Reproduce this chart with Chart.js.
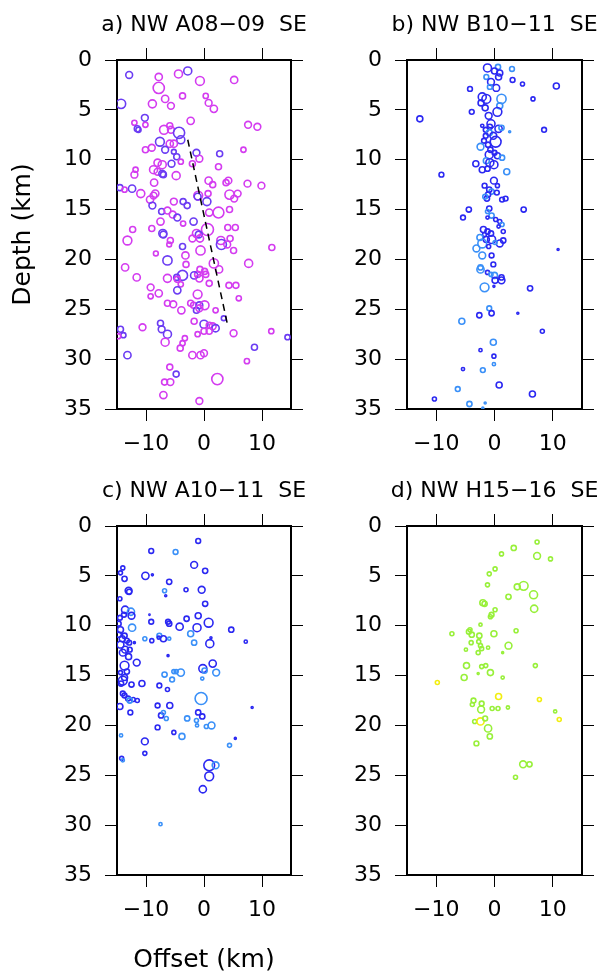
<!DOCTYPE html>
<html>
<head>
<meta charset="utf-8">
<script src="https://cdn.jsdelivr.net/npm/chart.js@4"></script>
<style>
  html, body { margin: 0; background: #fff; overflow: hidden; width: 600px; height: 975px; }
  .panel { position: absolute; }
</style>
</head>
<body>
<div class="panel" style="left:0;top:0;width:408px;height:470px"><canvas id="chartA"></canvas></div>
<div class="panel" style="left:300px;top:0;width:389px;height:470px"><canvas id="chartB"></canvas></div>
<div class="panel" style="left:0;top:470px;width:408px;height:505px"><canvas id="chartC"></canvas></div>
<div class="panel" style="left:300px;top:470px;width:389px;height:505px"><canvas id="chartD"></canvas></div>
<script>
// axis ticks
const depthTicks = [0, 5, 10, 15, 20, 25, 30, 35];
const offsetTicks = [-10, 0, 10];

// a) A08-09 : offset (km), depth (km), magnitude, period (0 = late, 1 = early)
const aOffset = [
    -12.9, -7.8, -4.4, -2.8, -0.7, 5.2, -7.8, -6.7, -3.7, 0.3,
    0.8, 1.7, -8.9, -5.7, -14.3, -10.2, -2.3, -12.0, -10.1, -11.5,
    -11.3, -5.9, 7.6, 9.2, -6.9, -5.7, -4.3, -4.0, -7.6, -5.9,
    -5.2, -9.0, -10.1, -6.7, -5.2, -1.3, 2.7, 6.8, -4.7, -0.8,
    -4.0, -2.0, -8.0, -7.2, -5.6, 2.5, -11.8, -12.0, -8.7, -8.0,
    -7.2, -7.0, -4.8, 0.8, 1.5, 4.2, 3.8, 7.5, 9.9, -8.6,
    -14.5, -13.7, -12.4, -10.9, -8.4, -8.7, -1.0, -1.1, 0.7, 4.4,
    5.8, 5.2, -9.3, -5.2, -3.6, -2.9, 0.5, -8.9, -7.3, -6.3,
    -5.4, -4.6, 0.9, 2.5, 4.4, -7.5, -3.6, -1.8, 0.6, -12.3,
    -9.0, -7.1, -7.0, -1.3, -0.9, 4.1, 5.4, -13.2, -5.8, -6.0,
    -2.0, -0.7, 2.9, 4.5, 3.0, 4.0, -3.7, -0.6, 5.1, 11.7,
    -8.3, -3.2, -6.3, 1.7, -3.1, -13.6, 7.7, 2.6, -0.7, 0.1,
    -1.1, 0.3, -3.7, -4.7, -4.6, -1.7, -0.8, -6.3, -11.6, 0.9,
    -4.0, 4.3, 5.5, -9.2, -4.6, -7.8, -9.2, -1.1, 6.0, -6.3,
    -5.3, -2.3, -1.8, -0.8, 0.1, -1.3, -0.8, -3.9, 2.0, 3.4,
    -7.5, -1.7, 0.0, 0.9, 1.5, 2.0, -10.6, -7.3, -14.4, -13.9,
    -14.8, -6.3, -6.7, -1.1, 0.0, 0.9, 5.1, 11.6, 14.4, -3.3,
    -3.7, -4.1, 8.7, -13.2, -2.0, -0.6, 0.0, 7.4, -5.9, -4.8,
    -6.8, -5.8, 2.3, -7.0, -0.8
];
const aDepth = [
    1.5, 1.7, 1.4, 1.1, 2.1, 2.0, 2.8, 3.9, 3.6, 3.6,
    4.3, 4.9, 4.4, 4.6, 4.4, 5.8, 6.1, 6.3, 6.5, 6.9,
    7.0, 6.6, 6.5, 6.7, 7.0, 7.0, 7.3, 8.0, 8.2, 8.4,
    8.4, 8.8, 9.0, 9.0, 9.2, 9.3, 9.4, 9.0, 9.7, 9.9,
    10.2, 10.4, 10.3, 10.5, 10.4, 10.7, 11.0, 11.5, 11.0, 11.2,
    11.4, 11.5, 11.6, 12.1, 12.5, 12.1, 12.3, 12.4, 12.6, 12.3,
    12.8, 13.0, 12.9, 13.4, 13.4, 13.6, 13.6, 13.7, 13.4, 13.5,
    13.4, 13.9, 14.0, 14.2, 14.2, 14.6, 14.2, 14.6, 15.2, 15.1,
    15.5, 15.8, 15.3, 15.3, 15.0, 16.2, 16.4, 16.2, 17.0, 17.0,
    16.9, 17.4, 17.5, 17.4, 17.5, 16.8, 16.8, 18.1, 18.1, 18.5,
    17.9, 17.9, 18.1, 17.9, 18.5, 18.5, 18.7, 19.1, 19.1, 18.8,
    19.4, 19.6, 20.1, 20.4, 20.5, 20.8, 20.4, 21.0, 21.0, 21.2,
    21.5, 21.5, 21.6, 21.8, 22.0, 21.6, 21.9, 21.9, 21.8, 22.4,
    22.5, 22.6, 22.6, 22.8, 23.1, 23.4, 23.7, 23.5, 23.9, 24.4,
    24.5, 24.4, 24.6, 24.6, 24.6, 25.1, 24.9, 25.1, 25.1, 25.9,
    26.4, 26.2, 26.5, 26.6, 26.7, 26.9, 26.8, 27.0, 27.0, 27.6,
    27.7, 27.5, 28.3, 27.5, 27.2, 27.2, 27.4, 27.2, 27.8, 27.9,
    28.4, 28.9, 28.8, 29.6, 29.6, 29.6, 29.4, 30.2, 30.8, 31.5,
    32.3, 32.3, 32.0, 33.6, 34.2
];
const aMag = [
    1.7, 1.8, 2.0, 2.0, 2.2, 1.8, 2.8, 1.8, 1.5, 1.3,
    1.7, 1.8, 2.0, 1.7, 2.3, 1.7, 1.8, 1.3, 1.3, 1.5,
    1.3, 1.5, 1.7, 1.7, 2.2, 1.7, 2.8, 2.0, 2.2, 1.8,
    1.8, 1.7, 1.5, 1.7, 1.2, 1.7, 1.5, 1.3, 1.5, 1.7,
    1.3, 1.5, 1.8, 2.0, 1.7, 1.5, 1.3, 1.7, 2.0, 1.7,
    1.7, 1.5, 2.0, 1.8, 1.5, 1.7, 1.5, 1.7, 1.7, 1.8,
    1.5, 1.3, 1.8, 2.0, 1.8, 1.7, 2.2, 1.7, 1.5, 2.3,
    1.7, 1.7, 1.8, 1.7, 1.5, 1.5, 2.0, 1.7, 1.5, 1.7,
    1.7, 1.7, 1.8, 2.7, 1.5, 1.8, 1.3, 1.8, 3.0, 1.5,
    1.5, 2.0, 1.7, 2.0, 1.7, 1.5, 1.5, 2.2, 1.5, 1.2,
    1.7, 1.8, 2.0, 1.5, 2.5, 1.7, 1.5, 2.3, 1.5, 1.5,
    1.2, 1.8, 2.3, 2.3, 1.5, 1.8, 2.0, 1.8, 1.5, 1.5,
    1.5, 1.5, 2.5, 1.5, 1.5, 1.8, 1.8, 2.0, 1.8, 1.5,
    1.3, 1.5, 1.5, 1.7, 1.8, 1.8, 1.3, 2.2, 1.3, 1.5,
    1.7, 1.5, 1.5, 1.7, 2.2, 1.5, 1.7, 1.8, 1.3, 1.2,
    1.5, 1.5, 2.0, 1.5, 1.7, 1.8, 1.7, 1.7, 1.5, 1.3,
    1.3, 2.0, 2.0, 1.3, 1.5, 1.5, 1.7, 1.3, 1.3, 1.3,
    1.3, 1.5, 1.5, 1.8, 1.8, 1.8, 1.7, 1.3, 1.5, 1.5,
    1.5, 1.7, 2.8, 1.8, 1.7
];
const aPeriod = [
    1, 0, 0, 1, 0, 0, 0, 0, 0, 0,
    0, 0, 0, 0, 1, 1, 0, 0, 0, 1,
    1, 0, 0, 0, 0, 0, 1, 1, 1, 0,
    0, 0, 0, 1, 1, 1, 1, 0, 1, 0,
    0, 0, 0, 0, 1, 0, 0, 0, 0, 0,
    1, 1, 0, 0, 0, 0, 0, 0, 0, 0,
    1, 0, 1, 0, 0, 0, 0, 1, 0, 0,
    0, 0, 0, 0, 1, 1, 1, 1, 1, 0,
    0, 1, 0, 0, 0, 0, 0, 1, 0, 0,
    0, 1, 1, 0, 1, 0, 0, 0, 0, 0,
    0, 0, 0, 0, 1, 0, 1, 0, 0, 0,
    0, 0, 1, 0, 0, 0, 0, 0, 0, 0,
    0, 0, 1, 1, 0, 1, 0, 0, 0, 0,
    0, 0, 0, 0, 1, 0, 0, 0, 0, 0,
    0, 0, 0, 1, 0, 1, 0, 0, 0, 1,
    1, 0, 1, 0, 0, 1, 0, 1, 1, 1,
    0, 1, 0, 0, 0, 0, 0, 0, 1, 0,
    0, 0, 1, 1, 0, 0, 0, 0, 0, 1,
    0, 0, 0, 0, 0
];
// dipping trend line through the A08-09 cluster
const faultOffset = [-2.8, 4.0];
const faultDepth = [8.0, 26.4];

// b) B10-11
const bOffset = [
    -1.2, 0.6, 3.0, 0.0, 0.9, 0.7, -1.4, 3.1, -0.6, 4.8,
    10.6, 0.3, -0.8, -4.2, -2.1, -1.4, 1.2, 6.6, -2.3, 0.9,
    -1.6, 0.5, -3.9, -12.8, -1.0, -0.6, -2.1, -0.8, 0.7, 1.2,
    -1.5, 2.6, 8.5, -0.9, -1.5, -0.2, 0.2, -1.8, -1.1, -2.4,
    -0.7, -0.9, 0.5, 1.3, 0.0, -1.4, -3.2, -0.8, -0.1, -2.1,
    -1.2, 2.1, -9.1, -0.1, -1.7, 0.5, -0.9, -0.5, 0.4, -1.1,
    -1.3, 1.3, 1.9, -1.6, 5.0, -4.4, -0.9, -1.2, -0.5, -5.4,
    -1.2, 0.2, 0.9, 1.3, 0.7, 1.5, -1.9, -1.2, -0.6, -1.7,
    -2.5, -0.5, -1.4, 1.5, -2.1, 0.9, 0.1, -1.0, 10.9, -3.1,
    -2.1, -0.5, -0.2, -2.4, -2.4, -1.2, -0.6, 0.0, 1.2, 0.1,
    1.2, -1.7, -0.1, 6.1, -0.9, -0.5, -2.6, 4.0, -5.6, 8.2,
    -0.2, -2.4, -0.1, -0.1, -5.4, -2.0, 0.8, -6.3, 6.5, -10.3,
    -4.3, -1.6, -2.0
];
const bDepth = [
    0.8, 0.7, 0.9, 1.1, 1.3, 1.7, 1.7, 2.0, 2.2, 2.4,
    2.6, 2.8, 2.7, 2.9, 3.7, 3.9, 3.9, 3.9, 4.3, 4.6,
    4.8, 5.2, 5.2, 5.9, 5.6, 6.4, 6.6, 6.7, 6.9, 6.8,
    7.0, 7.2, 7.0, 7.3, 7.6, 7.6, 8.2, 8.1, 8.5, 8.7,
    9.0, 9.5, 9.6, 9.8, 9.3, 10.1, 10.4, 10.3, 10.5, 11.0,
    10.9, 11.2, 11.5, 12.1, 12.6, 12.6, 13.0, 13.2, 13.3, 13.5,
    13.9, 14.0, 13.9, 13.7, 15.0, 15.0, 14.9, 15.2, 15.6, 15.8,
    15.8, 16.0, 16.2, 16.5, 16.7, 17.2, 17.0, 17.2, 17.4, 17.5,
    17.8, 18.0, 18.0, 18.1, 18.4, 18.4, 18.3, 18.7, 19.0, 18.9,
    19.6, 19.6, 20.5, 21.0, 20.8, 21.3, 21.5, 21.6, 21.8, 22.1,
    22.1, 22.8, 22.7, 22.9, 24.9, 25.4, 25.6, 25.4, 26.2, 27.2,
    28.3, 29.1, 29.7, 30.5, 31.0, 31.1, 32.6, 33.0, 33.5, 34.0,
    34.5, 34.4, 34.9
];
const bMag = [
    2.0, 1.3, 1.2, 1.5, 1.5, 1.5, 1.2, 1.2, 1.7, 1.0,
    1.5, 1.7, 1.2, 1.2, 2.0, 2.2, 2.3, 1.0, 1.5, 1.5,
    1.5, 2.2, 1.2, 1.5, 1.7, 2.0, 0.8, 1.3, 1.8, 1.3,
    1.2, 0.5, 1.2, 1.5, 1.2, 1.7, 2.7, 1.2, 1.3, 1.7,
    1.3, 2.0, 1.5, 1.3, 1.2, 1.5, 1.5, 2.0, 2.0, 1.5,
    1.3, 1.5, 1.2, 1.7, 1.2, 1.0, 1.3, 1.3, 1.2, 1.3,
    1.3, 1.2, 1.2, 1.2, 1.3, 1.3, 1.3, 1.0, 1.3, 1.2,
    0.8, 1.0, 1.0, 1.0, 0.8, 1.0, 1.5, 1.3, 1.3, 1.0,
    1.5, 2.0, 1.5, 1.3, 2.2, 1.7, 1.0, 1.0, 0.5, 1.7,
    1.7, 1.2, 1.2, 1.8, 1.3, 1.0, 1.0, 1.5, 1.3, 1.5,
    1.7, 2.2, 0.5, 1.3, 1.2, 1.3, 1.3, 0.5, 1.5, 1.0,
    1.5, 0.8, 1.0, 0.8, 0.8, 1.2, 1.5, 1.2, 1.5, 1.0,
    1.3, 0.5, 0.5
];
const bPeriod = [
    0, 1, 1, 0, 0, 0, 1, 0, 0, 0,
    0, 0, 1, 0, 0, 0, 1, 0, 0, 1,
    0, 0, 0, 0, 0, 0, 0, 0, 0, 1,
    0, 1, 0, 1, 0, 0, 0, 0, 0, 1,
    0, 0, 0, 1, 0, 1, 0, 0, 0, 0,
    0, 1, 0, 0, 0, 0, 0, 1, 0, 0,
    0, 0, 0, 1, 0, 0, 0, 1, 1, 0,
    0, 0, 0, 1, 0, 0, 0, 0, 0, 0,
    1, 0, 0, 0, 1, 0, 1, 0, 0, 1,
    1, 0, 0, 1, 1, 0, 1, 1, 0, 0,
    0, 1, 0, 0, 1, 0, 0, 0, 1, 0,
    1, 0, 0, 1, 0, 1, 0, 1, 0, 0,
    1, 1, 1
];

// c) A10-11
const cOffset = [
    -1.0, -9.1, -4.9, -1.7, 0.2, -14.0, -14.4, -13.7, -10.1, -8.9,
    -6.0, -6.8, -6.6, -3.1, -0.4, -13.0, -12.9, -14.5, 0.2, -13.6,
    -12.6, -12.5, -13.8, -14.5, -9.4, -9.1, -1.0, -3.0, -6.2, -6.0,
    -4.2, -1.2, 0.8, -12.4, -14.7, -14.4, 4.7, -2.3, -14.7, -13.7,
    -7.7, -7.8, -7.0, -6.0, -10.2, -9.0, 1.2, 1.0, -1.7, 7.2,
    -14.1, -13.3, -12.0, -14.4, -12.9, -13.6, -12.8, -14.0, -6.2, -13.0,
    -11.6, 1.5, -13.7,
    -14.4, -13.3, -13.7, -14.0, -14.3, -12.5, -10.7, -6.8, -5.2, -4.8,
    -4.0, -5.5, -0.2, 0.1, 2.1, -0.3, -7.7, -6.3, -0.5, -14.0,
    -13.7, -13.1, -12.2, -11.5, -12.8, -14.5, -8.0, -5.9, 8.3, -12.7,
    -7.4, -7.0, -6.5, -2.9, -1.0, -0.3, -1.3, -1.2, 0.4, 1.3,
    -8.0, -5.2, -3.8, -10.2, -14.3, 4.4, 5.4, -10.2, -14.2, -14.0,
    0.9, 2.0, 0.9, -0.2, -7.5
];
const cDepth = [
    1.5, 2.5, 2.6, 3.9, 4.5, 4.2, 4.7, 5.3, 5.0, 4.9,
    5.6, 6.5, 7.0, 6.4, 6.4, 6.5, 6.6, 7.3, 7.8, 8.4,
    8.6, 9.0, 8.9, 9.2, 8.9, 9.6, 9.0, 9.3, 9.6, 9.8,
    10.1, 10.2, 9.7, 10.2, 9.8, 10.4, 10.4, 10.8, 10.9, 11.0,
    11.0, 11.2, 11.3, 11.3, 11.3, 11.5, 11.2, 11.8, 11.7, 11.6,
    11.3, 11.5, 11.7, 11.9, 11.7, 12.4, 12.4, 12.7, 13.0, 13.1,
    13.7, 13.8, 14.0,
    14.7, 14.6, 15.2, 15.5, 15.8, 15.9, 15.8, 14.9, 14.6, 14.6,
    14.7, 15.4, 14.3, 14.5, 14.7, 15.3, 16.0, 16.4, 17.3, 16.8,
    17.0, 17.3, 17.4, 17.5, 17.5, 18.1, 18.0, 18.0, 18.2, 18.7,
    19.0, 18.7, 19.3, 19.3, 18.7, 19.1, 19.5, 20.0, 20.1, 20.0,
    20.2, 20.7, 21.1, 21.6, 21.0, 22.0, 21.3, 22.8, 23.3, 23.5,
    24.0, 24.0, 25.1, 26.4, 29.9
];
const cMag = [
    1.2, 1.2, 1.2, 1.7, 1.3, 1.0, 1.0, 1.3, 1.8, 0.5,
    1.3, 1.0, 0.5, 1.0, 1.7, 1.7, 1.3, 1.0, 1.3, 1.8,
    1.8, 1.7, 1.2, 1.2, 0.3, 1.2, 1.5, 1.3, 1.2, 1.3,
    1.8, 2.0, 2.2, 1.8, 1.2, 1.5, 1.3, 1.5, 1.3, 1.3,
    1.2, 0.8, 1.5, 0.8, 1.0, 1.0, 0.5, 2.0, 1.3, 0.8,
    1.5, 1.2, 0.5, 1.7, 1.2, 1.7, 1.2, 1.7, 0.5, 1.5,
    1.7, 1.8, 2.2,
    1.0, 1.3, 1.5, 2.2, 1.3, 1.3, 1.5, 1.3, 1.0, 1.0,
    1.8, 1.2, 2.0, 1.3, 1.7, 0.8, 1.2, 1.0, 3.0, 1.2,
    1.2, 1.2, 1.0, 1.0, 1.3, 1.5, 1.2, 1.5, 0.5, 1.2,
    1.3, 1.0, 1.0, 1.3, 1.3, 1.3, 1.0, 0.8, 1.0, 1.7,
    1.2, 1.0, 1.5, 1.7, 0.8, 1.0, 0.5, 1.0, 1.0, 0.8,
    2.7, 1.7, 2.2, 1.8, 0.8
];
const cPeriod = [
    0, 0, 1, 0, 0, 0, 0, 0, 0, 0,
    0, 1, 0, 0, 0, 0, 0, 0, 0, 0,
    1, 0, 0, 0, 0, 0, 0, 0, 0, 0,
    0, 0, 0, 1, 0, 0, 0, 1, 0, 0,
    1, 0, 0, 1, 1, 0, 0, 0, 1, 0,
    0, 0, 0, 0, 0, 0, 0, 0, 0, 0,
    0, 0, 0,
    0, 0, 0, 0, 0, 0, 0, 1, 1, 1,
    1, 1, 0, 1, 1, 1, 0, 0, 1, 0,
    0, 0, 0, 0, 1, 0, 0, 0, 0, 0,
    0, 1, 1, 1, 0, 0, 1, 1, 1, 1,
    0, 0, 1, 0, 1, 1, 0, 0, 0, 1,
    0, 1, 0, 0, 1
];

// d) H15-16
const dOffset = [
    7.3, 3.3, 7.3, 9.6, 1.2, 0.1, -0.9, -1.2, 5.0, 3.9,
    2.4, 6.7, -2.0, -1.7, 6.8, 0.1, -0.5, -0.7, -2.4, -7.3,
    -4.2, -4.4, -3.9, -2.6, -0.1, 3.7, -4.0, -2.7, -2.4, -2.2,
    -1.1, 2.4, -4.9, -2.8, 1.4,
    -4.8, -2.2, -1.5, -2.8, -0.7, 1.4, 7.0, -5.2, -9.8,
    0.7, -3.6, -3.8, -2.2, -2.3, -0.4, 0.6, 2.3, 7.7, 10.4,
    11.1, -3.4, -2.4, -1.6, -1.1, -0.8, -3.1, 4.9, 6.0, 3.6
];
const dDepth = [
    1.6, 2.2, 3.0, 3.3, 2.8, 4.3, 4.8, 5.9, 6.0, 6.1,
    7.1, 6.9, 7.7, 7.8, 8.3, 8.4, 8.9, 9.1, 9.9, 10.8,
    10.4, 10.6, 10.9, 11.0, 10.8, 10.5, 11.7, 11.6, 12.0, 12.3,
    12.2, 12.0, 12.4, 12.7, 12.7,
    14.0, 14.1, 14.0, 14.8, 14.7, 15.2, 14.0, 15.2, 15.7,
    17.1, 17.5, 17.9, 17.8, 18.4, 18.3, 18.3, 18.2, 17.4, 18.6,
    19.4, 19.6, 19.6, 19.3, 20.3, 21.1, 21.8, 23.9, 23.9, 25.2
];
const dMag = [
    1.0, 1.3, 1.7, 1.0, 1.0, 1.0, 1.0, 1.0, 2.2, 1.5,
    1.3, 2.0, 1.5, 1.3, 1.8, 1.0, 1.2, 1.0, 0.8, 1.0,
    1.0, 1.2, 1.3, 1.3, 1.5, 1.0, 1.0, 1.0, 1.0, 1.0,
    0.8, 1.7, 0.8, 1.0, 0.5,
    1.5, 1.0, 1.0, 0.5, 1.5, 0.8, 1.0, 1.5, 1.0,
    1.5, 1.2, 1.0, 1.2, 1.7, 1.0, 1.0, 0.8, 1.0, 0.8,
    1.0, 1.0, 1.8, 1.2, 1.8, 1.3, 1.2, 1.7, 1.3, 1.0
];
const dPeriod = [
    0, 0, 0, 0, 0, 0, 0, 0, 0, 0,
    0, 0, 0, 0, 0, 0, 0, 0, 0, 0,
    0, 0, 0, 0, 0, 0, 0, 0, 0, 0,
    0, 0, 0, 0, 0,
    0, 0, 0, 0, 0, 0, 0, 0, 1,
    1, 0, 0, 0, 0, 0, 0, 0, 1, 0,
    1, 0, 1, 0, 0, 0, 0, 0, 0, 0
];

Chart.defaults.font.family = '"DejaVu Sans", Verdana, sans-serif';
Chart.defaults.color = '#000';

const tickFont = { size: 22 };

function minusLabel(v) {
    return v < 0 ? '\u2212' + Math.abs(v) : String(v);
}

function xy(xs, ys) {
    return xs.map((x, i) => ({ x: x, y: ys[i] }));
}

// open circles, radius grows with magnitude, colour by period
function quakes(xs, ys, mags, period, colors) {
    return {
        data: xy(xs, ys),
        showLine: false,
        pointRadius: mags.map(m => 2 * m),
        pointBorderColor: period.map(p => colors[p]),
        pointBackgroundColor: 'rgba(0,0,0,0)',
        pointBorderWidth: 1.6
    };
}

function tickGrid() {
    return { display: true, drawOnChartArea: false, drawTicks: true, tickLength: 12, color: '#000', lineWidth: 1 };
}
const frame = { display: true, color: '#000', width: 2 };

// the canvas is as wide on the right as on the left so the title sits over the frame
function drawPanel(id, title, datasets, box) {
    return new Chart(document.getElementById(id), {
        type: 'scatter',
        data: { datasets: datasets },
        options: {
            responsive: true,
            maintainAspectRatio: false,
            animation: false,
            events: [],
            layout: { padding: { top: box.top, right: 0, left: 0, bottom: 0 } },
            plugins: {
                legend: { display: false },
                tooltip: { enabled: false },
                title: {
                    display: true,
                    text: title,
                    color: '#000',
                    font: { size: 22, weight: 'normal' },
                    padding: { top: 8, bottom: 9.6 }
                }
            },
            scales: {
                x: {
                    type: 'linear', position: 'bottom', min: -15, max: 15,
                    afterBuildTicks: ax => { ax.ticks = offsetTicks.map(v => ({ value: v })); },
                    afterFit: ax => { ax.height = box.bottom; },
                    ticks: { font: tickFont, padding: 10, maxRotation: 0, callback: minusLabel },
                    grid: tickGrid(), border: frame,
                    title: { display: !!box.xTitle, text: box.xTitle || '', font: { size: 25 }, padding: { top: 0, bottom: 0 } }
                },
                x2: {
                    type: 'linear', position: 'top', min: -15, max: 15,
                    afterBuildTicks: ax => { ax.ticks = offsetTicks.map(v => ({ value: v })); },
                    afterFit: ax => { ax.height = 12; },
                    ticks: { display: false },
                    grid: tickGrid(), border: frame
                },
                y: {
                    type: 'linear', position: 'left', min: 0, max: 35, reverse: true,
                    afterBuildTicks: ax => { ax.ticks = depthTicks.map(v => ({ value: v })); },
                    afterFit: ax => { ax.width = box.side; },
                    ticks: { font: tickFont, padding: 13 },
                    grid: tickGrid(), border: frame,
                    title: { display: !!box.yTitle, text: box.yTitle || '', font: { size: 25 }, padding: { top: 8, bottom: 0 } }
                },
                y2: {
                    type: 'linear', position: 'right', min: 0, max: 35, reverse: true,
                    afterBuildTicks: ax => { ax.ticks = depthTicks.map(v => ({ value: v })); },
                    afterFit: ax => { ax.width = box.side; },
                    ticks: { display: false },
                    grid: tickGrid(), border: frame
                }
            }
        }
    });
}

drawPanel('chartA', 'a) NW A08\u221209  SE', [
    {
        data: xy(faultOffset, faultDepth),
        showLine: true,
        borderColor: '#000',
        borderWidth: 1.5,
        borderDash: [7, 5],
        pointRadius: 0
    },
    quakes(aOffset, aDepth, aMag, aPeriod, ['#d43cf0', '#6b3cf3'])
], { top: 4, side: 117, bottom: 61, yTitle: 'Depth (km)' });

drawPanel('chartB', 'b) NW B10\u221211  SE',
    [quakes(bOffset, bDepth, bMag, bPeriod, ['#2b28f2', '#3a90f8'])],
    { top: 4, side: 107, bottom: 61 });

drawPanel('chartC', 'c) NW A10\u221211  SE',
    [quakes(cOffset, cDepth, cMag, cPeriod, ['#2b28f2', '#3a90f8'])],
    { top: 0, side: 117, bottom: 100, xTitle: 'Offset (km)' });

drawPanel('chartD', 'd) NW H15\u221216  SE',
    [quakes(dOffset, dDepth, dMag, dPeriod, ['#98f03a', '#f2ee10'])],
    { top: 0, side: 107, bottom: 100 });
</script>
</body>
</html>
